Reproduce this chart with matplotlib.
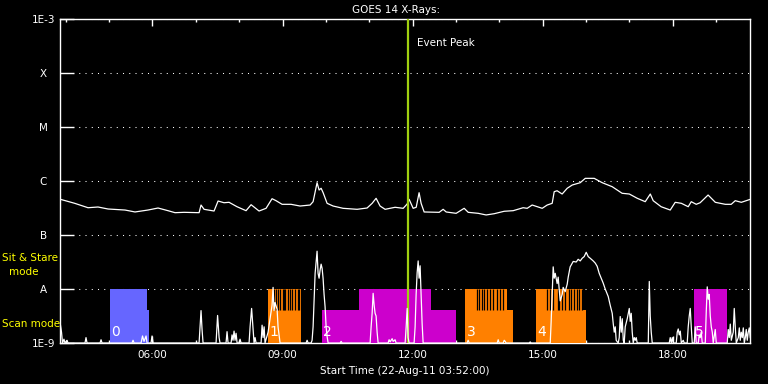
import numpy as np
import matplotlib
matplotlib.use('Agg')
import matplotlib.pyplot as plt
from matplotlib.ticker import NullLocator

# time axis: minutes after start time 03:52
start_clock = '03:52'
end_min = 955

# GOES 14 long channel flux (W/m^2)
goes_t = [0, 20.4, 38.8, 52.6, 66.5, 90, 103.8, 121.8, 135.7, 149.5, 159.2, 171.7, 192.5, 195.2,
          199.4, 213.2, 218.8, 227, 234, 245, 257.5, 264.5, 275.5, 285.2, 293.5, 299, 307.4,
          319.8, 332.3, 346.2, 350.3, 355.8, 358.6, 361.4, 364.2, 369.7, 378, 391.8, 411.2, 425,
          432, 437.5, 443, 450, 463.8, 475, 480.5, 483.2, 488.8, 493, 497, 499.8, 504, 524.8,
          530.3, 534.5, 548.3, 559.4, 565, 578.8, 589.8, 601, 614.8, 627.2, 641, 646.6, 653.5,
          667.4, 674.3, 681.2, 684, 688, 695, 702, 709, 720, 727, 739.4, 750.5, 764.3, 778, 788,
          799, 810, 817, 821, 832, 844.6, 851.5, 860, 869.5, 873.7, 880.6, 886, 897, 907, 920.8,
          929, 934.6, 943, 955.4]
goes_flux = [4.6e-7, 3.86e-7, 3.2e-7, 3.3e-7, 3.03e-7, 2.9e-7, 2.67e-7, 2.9e-7, 3.16e-7, 2.82e-7,
             2.59e-7, 2.63e-7, 2.59e-7, 3.59e-7, 2.99e-7, 2.78e-7, 4.26e-7, 3.96e-7, 4.03e-7,
             3.34e-7, 2.82e-7, 3.64e-7, 2.78e-7, 3.12e-7, 4.7e-7, 4.32e-7, 3.7e-7, 3.7e-7,
             3.44e-7, 3.59e-7, 4.14e-7, 9.3e-7, 6.81e-7, 7.33e-7, 6.07e-7, 3.86e-7, 3.44e-7,
             3.12e-7, 2.99e-7, 3.16e-7, 3.86e-7, 4.78e-7, 3.44e-7, 2.99e-7, 3.26e-7, 3.12e-7,
             3.75e-7, 4.58e-7, 3.12e-7, 3.26e-7, 6.07e-7, 3.86e-7, 2.67e-7, 2.63e-7, 2.99e-7,
             2.67e-7, 2.52e-7, 3.12e-7, 2.63e-7, 2.52e-7, 2.35e-7, 2.48e-7, 2.75e-7, 2.82e-7,
             3.2e-7, 3.12e-7, 3.59e-7, 3.12e-7, 3.59e-7, 3.86e-7, 6.34e-7, 6.6e-7, 5.74e-7,
             7.33e-7, 8.43e-7, 9.3e-7, 1.12e-6, 1.12e-6, 9.3e-7, 7.84e-7, 5.92e-7, 5.74e-7,
             4.78e-7, 4.14e-7, 5.74e-7, 4.32e-7, 3.34e-7, 2.9e-7, 4.03e-7, 3.86e-7, 3.34e-7,
             4.14e-7, 3.7e-7, 3.96e-7, 5.5e-7, 4.03e-7, 3.7e-7, 3.7e-7, 4.32e-7, 4.03e-7, 4.58e-7]

# spiky trace in the mode band (scaled, 1 = A level)
spk_t = [0, 2.1, 3.5, 5.5, 6.9, 9.7, 11.1, 34.6, 36.0, 37.4, 55.4, 56.8, 58.2, 99.7, 101.1, 102.5,
         112.2, 114.2, 116.3, 119.1, 120.5, 126.0, 127.4, 128.8, 192.5, 195.2, 196.6, 198.0,
         216.0, 218.1, 220.2, 221.5, 229.8, 231.2, 232.6, 236.8, 238.1, 239.5, 240.9, 242.3,
         243.7, 245.1, 247.8, 249.2, 250.6, 261.7, 263.1, 265.2, 267.2, 268.6, 270.0, 271.4,
         278.3, 279.7, 281.1, 282.5, 283.8, 288.0, 290.8, 293.5, 294.9, 296.3, 297.7, 300.5,
         301.8, 304.6, 340.6, 342.0, 343.4, 347.5, 348.9, 350.3, 351.7, 353.1, 354.5, 355.8,
         357.2, 358.6, 360.0, 361.4, 362.8, 364.1, 365.5, 366.9, 368.3, 369.7, 371.1, 387.7,
         389.1, 390.5, 429.2, 430.6, 432.0, 433.4, 434.8, 436.1, 437.5, 438.9, 440.3, 454.1,
         455.5, 456.9, 459.7, 461.1, 463.8, 465.2, 477.7, 479.1, 480.5, 481.8, 483.2, 490.1,
         491.5, 492.9, 494.3, 495.7, 497.0, 498.4, 499.8, 501.2, 502.6, 563.5, 564.9, 566.3,
         605.1, 606.5, 607.8, 613.4, 614.8, 616.1, 617.5, 649.4, 650.8, 652.1, 678.5, 679.8,
         681.2, 682.6, 684.0, 685.4, 688.1, 689.5, 692.3, 695.1, 696.4, 699.2, 702.0, 703.4,
         706.1, 710.3, 714.5, 717.2, 720.0, 722.8, 725.5, 728.3, 731.1, 733.8, 738.0, 740.8,
         743.5, 746.3, 749.1, 751.8, 754.6, 758.8, 761.5, 764.3, 765.7, 767.1, 768.5, 769.8,
         772.6, 774.0, 775.4, 776.8, 778.2, 779.6, 780.9, 782.3, 785.1, 787.9, 789.2, 790.6,
         792.0, 793.4, 794.8, 796.2, 797.5, 798.9, 814.2, 815.6, 816.9, 818.3, 819.7, 843.2,
         844.6, 846.0, 847.4, 848.8, 852.9, 854.3, 855.7, 857.1, 858.5, 859.9, 862.6, 864.0,
         868.1, 869.5, 870.9, 872.3, 873.7, 875.1, 877.8, 879.2, 880.6, 883.4, 884.7, 886.1,
         887.5, 888.9, 893.1, 894.5, 895.8, 897.2, 898.6, 900.0, 901.4, 902.8, 904.1, 906.9,
         908.3, 923.5, 924.9, 926.3, 927.7, 929.1, 931.8, 933.2, 934.6, 936.0, 938.8, 940.2,
         941.5, 942.9, 944.3, 945.7, 947.1, 948.5, 949.8, 951.2, 952.6, 954.0, 955.4]
spk_v = [0.39, 0.2, 0, 0.07, 0, 0.05, 0, 0, 0.1, 0, 0, 0.06, 0, 0, 0.05, 0,
         0, 0.13, 0.03, 0.13, 0, 0, 0.13, 0, 0, 0.6, 0.25, 0,
         0, 0.51, 0.1, 0, 0, 0.21, 0, 0, 0.15, 0.05, 0.22, 0.05,
         0.18, 0, 0, 0.07, 0, 0, 0.3, 0.64, 0.25, 0, 0.1, 0,
         0, 0.33, 0.1, 0.3, 0, 0.2, 0.45, 0.7, 1.03, 0.6, 0.75, 0.62,
         0.3, 0, 0, 0.05, 0, 0, 0.05, 0.3, 0.8, 1.29, 1.5, 1.7,
         1.29, 1.2, 1.35, 1.46, 1.38, 1.2, 0.9, 0.67, 0.3, 0.12, 0, 0,
         0.03, 0, 0, 0.3, 0.55, 0.92, 0.7, 0.55, 0.5, 0.2, 0, 0,
         0.06, 0.02, 0.08, 0.03, 0.06, 0, 0, 0.3, 0.64, 0.1, 0, 0,
         0.3, 0.9, 1.3, 1.52, 1.2, 1.43, 0.9, 0.36, 0, 0, 0.05, 0,
         0, 0.06, 0, 0, 0.05, 0.03, 0, 0, 0.02, 0, 0, 0.4,
         0.9, 1.41, 1.2, 1.29, 1.1, 1.22, 0.78, 0.9, 1.03, 0.95, 1.09, 1.22,
         1.41, 1.51, 1.5, 1.55, 1.52, 1.57, 1.6, 1.68, 1.6, 1.57, 1.52, 1.48,
         1.42, 1.29, 1.2, 1.11, 1.0, 0.86, 0.7, 0.55, 0.36, 0.2, 0.3, 0.05,
         0, 0.1, 0.49, 0.2, 0.45, 0.05, 0, 0.3, 0.45, 0.64, 0.4, 0.55,
         0.2, 0, 0.1, 0.05, 0.1, 0, 0, 1.14, 0.5, 0.2, 0, 0,
         0.1, 0, 0.1, 0, 0, 0.2, 0.26, 0.15, 0.22, 0, 0.05, 0,
         0, 0.3, 0.5, 0.64, 0.3, 0, 0, 0.3, 0, 0, 0.15, 0.1,
         0.2, 0, 0, 0.6, 1.04, 0.81, 0.9, 0.5, 0.3, 0.2, 0, 0.25,
         0, 0, 0.25, 0.1, 0.35, 0.05, 0.2, 0.64, 0.3, 0, 0.1, 0.28,
         0.05, 0.2, 0.1, 0.28, 0, 0.1, 0.25, 0.05, 0.2, 0.28, 0.1]

# observing mode blocks: start, end, level (1 = sit & stare, 0.61 = scan)
blk_start = ['05:01', '05:53', '08:40', '09:54', '10:46', '12:25', '13:13', '14:10', '14:51', '15:56', '18:29']
blk_end = ['05:53', '05:55', '09:25', '10:46', '12:25', '13:00', '14:10', '14:19', '15:56', '16:00', '19:15']
blk_level = [1.0, 0.61, 1.0, 0.61, 1.0, 0.61, 1.0, 0.61, 1.0, 0.61, 1.0]
blk_color = ['#6666ff', '#6666ff', '#ff8000', '#cc00cc', '#cc00cc', '#cc00cc',
             '#ff8000', '#ff8000', '#ff8000', '#ff8000', '#cc00cc']
# short breaks in sit & stare mode
gaps = ['08:48', '08:51', '08:54', '08:57', '09:00', '09:02', '09:04', '09:07', '09:10', '09:13',
        '09:17', '09:21', '09:23', '13:29', '13:32', '13:36', '13:39', '13:43', '13:47', '13:51',
        '13:57', '14:01', '14:05', '15:06', '15:10', '15:15', '15:21', '15:23', '15:27', '15:31',
        '15:36', '15:39', '15:43', '15:47', '15:51', '15:54']
blk_names = ['0', '1', '2', '3', '4', '5']
name_at = ['05:01', '08:40', '09:54', '13:13', '14:51', '18:29']

peak_clock = '11:53'
tick_hours = [6, 9, 12, 15, 18]
ylevels = [1e-9, 1e-8, 1e-7, 1e-6, 1e-5, 1e-4, 1e-3]
ylabels = ['1E-9', 'A', 'B', 'C', 'M', 'X', '1E-3']


def clk(s):
    h, m = map(int, s.split(':'))
    h0, m0 = map(int, start_clock.split(':'))
    return h * 60 + m - (h0 * 60 + m0)


fig = plt.figure(figsize=(7.68, 3.84), dpi=100, facecolor='black')
ax = fig.add_axes([60 / 768, 41 / 384, 690 / 768, 324 / 384], facecolor='black')

ax.plot(goes_t, goes_flux, color='white', lw=0.9)
ax.set_yscale('log')
ax.set_ylim(1e-9, 1e-3)
ax.set_xlim(0, end_min)
ax.set_yticks(ylevels)
ax.set_yticklabels(ylabels)
ax.yaxis.set_minor_locator(NullLocator())
ax.grid(axis='y', color='white', linestyle=(0, (1, 5)), lw=0.75)

ax.set_xticks([clk('%02d:00' % h) for h in tick_hours])
ax.set_xticklabels(['%02d:00' % h for h in tick_hours])
ax.set_xticks([clk('%02d:00' % h) for h in range(4, 20)], minor=True)

for s in ax.spines.values():
    s.set_color('white')
    s.set_linewidth(1)
ax.tick_params(axis='y', which='both', direction='in', left=True, right=True,
               length=10, width=1, color='white', labelcolor='white', labelsize=7.5, pad=12)
for lab in ax.get_yticklabels():
    lab.set_horizontalalignment('center')
ax.tick_params(axis='x', which='major', direction='in', top=True, bottom=True,
               length=5, width=1, color='white', labelcolor='white', labelsize=7.5, pad=5)
ax.tick_params(axis='x', which='minor', direction='in', top=True, bottom=True,
               length=2.5, width=1, color='white')
ax.set_xlabel('Start Time (22-Aug-11 03:52:00)', color='white', fontsize=7.5, labelpad=4)

# mode band overlay
ax2 = ax.twinx()
ax2.set_ylim(0, 6)
ax2.set_axis_off()
xs = [clk(s) for s in blk_start]
ws = [clk(e) - clk(s) for s, e in zip(blk_start, blk_end)]
ax2.bar(xs, blk_level, width=ws, align='edge', color=blk_color, linewidth=0)
ax2.vlines([clk(g) for g in gaps], 0.61, 1.0, color='black', lw=0.9)
ax2.axvline(clk(peak_clock), color='#a0d010', lw=1.6)
ax2.plot(spk_t, spk_v, color='white', lw=0.9)
for n, s in zip(blk_names, name_at):
    ax2.text(clk(s) + 2, 0.2, n, color='white', fontsize=10, va='center', ha='left')
ax2.text(clk(peak_clock) + 13, 5.55, 'Event Peak', color='white', fontsize=7.5, va='center')

fig.text(396 / 768, 1 - 10 / 384, 'GOES 14 X-Rays:', color='white', fontsize=7.5,
         ha='center', va='center')
fig.text(2 / 768, 1 - 258 / 384, 'Sit & Stare', color='yellow', fontsize=7.5, va='center')
fig.text(24 / 768, 1 - 272 / 384, 'mode', color='yellow', fontsize=7.5, va='center', ha='center')
fig.text(2 / 768, 1 - 324 / 384, 'Scan mode', color='yellow', fontsize=7.5, va='center')

fig.savefig('out.png', dpi=100, facecolor='black')
